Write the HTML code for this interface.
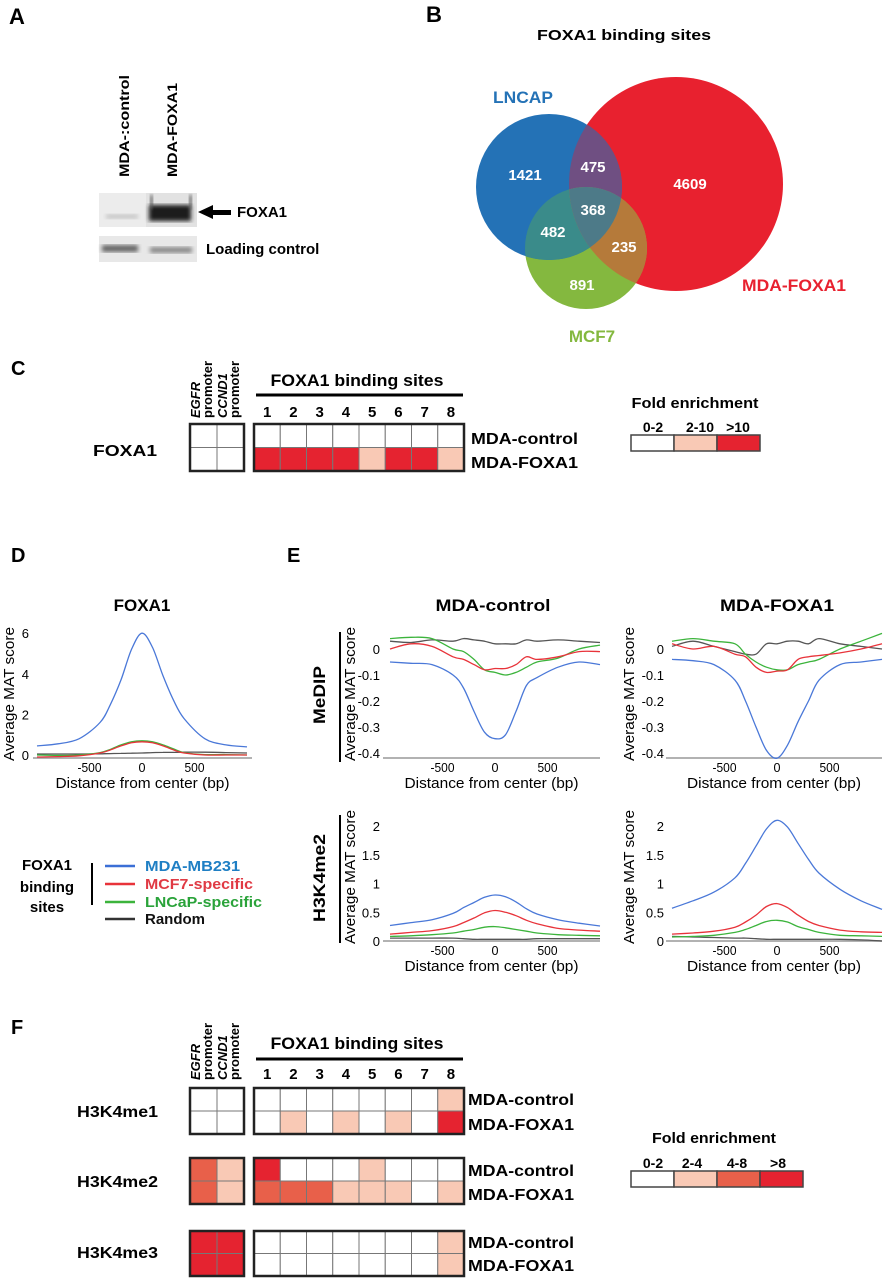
<!DOCTYPE html>
<html><head><meta charset="utf-8"><style>
html,body{margin:0;padding:0;background:#fff;}
svg{display:block;font-family:"Liberation Sans",Arial,sans-serif;}
.b{font-weight:bold;}
</style></head><body>
<svg id="fig" width="885" height="1280" viewBox="0 0 885 1280" xmlns="http://www.w3.org/2000/svg">
<defs>
<clipPath id="cb"><circle cx="549" cy="187" r="73"/></clipPath>
<clipPath id="cr"><circle cx="676" cy="184" r="107"/></clipPath>
<filter id="bl"><feGaussianBlur stdDeviation="2"/></filter>
</defs>

<!-- Panel A -->
<text x="9" y="24" font-size="22" class="b">A</text>
<text transform="translate(129,177) rotate(-90)" font-size="14" class="b" textLength="102" lengthAdjust="spacingAndGlyphs">MDA-:control</text>
<text transform="translate(177,177) rotate(-90)" font-size="14" class="b" textLength="94" lengthAdjust="spacingAndGlyphs">MDA-FOXA1</text>
<g>
<rect x="99" y="193" width="98" height="34" fill="#ececec"/>
<rect x="146" y="193" width="51" height="34" fill="#e2e2e2"/>
<rect x="106" y="214" width="32" height="5" fill="#c8c8c8" filter="url(#bl)"/>
<rect x="149" y="205" width="42" height="16" fill="#1e1e1e" filter="url(#bl)"/>
<rect x="150" y="195" width="3" height="14" fill="#555" filter="url(#bl)"/>
<rect x="189" y="195" width="3" height="14" fill="#555" filter="url(#bl)"/>
</g>
<g>
<rect x="99" y="236" width="98" height="26" fill="#e8e8e8"/>
<rect x="102" y="245" width="36" height="7" fill="#666" filter="url(#bl)"/>
<rect x="150" y="247" width="42" height="6" fill="#888" filter="url(#bl)"/>
</g>
<polygon points="198,212 213,205 213,210 231,210 231,215 213,215 213,219" fill="#000"/>
<text x="237" y="217" font-size="15" class="b">FOXA1</text>
<text x="206" y="254" font-size="15" class="b">Loading control</text>

<!-- Panel B -->
<text x="426" y="22" font-size="22" class="b">B</text>
<text x="624" y="40" font-size="15" class="b" text-anchor="middle" textLength="174" lengthAdjust="spacingAndGlyphs">FOXA1 binding sites</text>
<g>
<circle cx="676" cy="184" r="107" fill="#e8212f"/>
<circle cx="586" cy="248" r="61" fill="#84b83f"/>
<circle cx="549" cy="187" r="73" fill="#2472b6"/>
<g clip-path="url(#cb)"><circle cx="676" cy="184" r="107" fill="#6f4f82"/><circle cx="586" cy="248" r="61" fill="#3a8b8a"/></g>
<g clip-path="url(#cr)"><circle cx="586" cy="248" r="61" fill="#b57a3a"/></g>
<g clip-path="url(#cb)"><g clip-path="url(#cr)"><circle cx="586" cy="248" r="61" fill="#4d7a88"/></g></g>
<g font-size="15" class="b" fill="#fff" text-anchor="middle">
<text x="525" y="180">1421</text>
<text x="593" y="172">475</text>
<text x="690" y="189">4609</text>
<text x="593" y="215">368</text>
<text x="553" y="237">482</text>
<text x="624" y="252">235</text>
<text x="582" y="290">891</text>
</g>
<text x="493" y="103" font-size="17" class="b" fill="#2472b6" textLength="60" lengthAdjust="spacingAndGlyphs">LNCAP</text>
<text x="742" y="291" font-size="17" class="b" fill="#e8212f" textLength="104" lengthAdjust="spacingAndGlyphs">MDA-FOXA1</text>
<text x="592" y="342" font-size="17" class="b" fill="#84b83f" text-anchor="middle">MCF7</text>
</g>

<!-- Panel C -->
<text x="11" y="375" font-size="20" class="b">C</text>
<g id="cHead"></g>
<text x="93" y="456" font-size="16" class="b" textLength="64" lengthAdjust="spacingAndGlyphs">FOXA1</text>
<text x="471" y="444" font-size="16" class="b" textLength="107" lengthAdjust="spacingAndGlyphs">MDA-control</text>
<text x="471" y="468" font-size="16" class="b" textLength="107" lengthAdjust="spacingAndGlyphs">MDA-FOXA1</text>
<g id="cGrid"></g>
<g>
<text x="695" y="408" font-size="15" class="b" text-anchor="middle" textLength="127" lengthAdjust="spacingAndGlyphs">Fold enrichment</text>
<text x="653" y="432" font-size="14" class="b" text-anchor="middle">0-2</text>
<text x="700" y="432" font-size="14" class="b" text-anchor="middle">2-10</text>
<text x="738" y="432" font-size="14" class="b" text-anchor="middle">&gt;10</text>
<rect x="631" y="435" width="43" height="16" fill="#fff" stroke="#444" stroke-width="1.5"/>
<rect x="674" y="435" width="43" height="16" fill="#f9c9b5" stroke="#444" stroke-width="1.5"/>
<rect x="717" y="435" width="43" height="16" fill="#e52330" stroke="#444" stroke-width="1.5"/>
</g>

<!-- Panel D/E -->
<text x="11" y="562" font-size="20" class="b">D</text>
<text x="287" y="562" font-size="20" class="b">E</text>
<text x="142" y="611" font-size="17" class="b" text-anchor="middle">FOXA1</text>
<text x="493" y="611" font-size="17" class="b" text-anchor="middle" textLength="115" lengthAdjust="spacingAndGlyphs">MDA-control</text>
<text x="777" y="611" font-size="17" class="b" text-anchor="middle" textLength="114" lengthAdjust="spacingAndGlyphs">MDA-FOXA1</text>
<line x1="340" y1="632" x2="340" y2="762" stroke="#000" stroke-width="2"/>
<line x1="340" y1="815" x2="340" y2="943" stroke="#000" stroke-width="2"/>
<text transform="translate(325,695) rotate(-90)" font-size="17" class="b" text-anchor="middle" textLength="58" lengthAdjust="spacingAndGlyphs">MeDIP</text>
<text transform="translate(325,878) rotate(-90)" font-size="17" class="b" text-anchor="middle" textLength="88" lengthAdjust="spacingAndGlyphs">H3K4me2</text>
<g id="plots"></g>

<g>
<text x="47" y="870" font-size="15" class="b" text-anchor="middle">FOXA1</text>
<text x="47" y="892" font-size="15" class="b" text-anchor="middle">binding</text>
<text x="47" y="912" font-size="15" class="b" text-anchor="middle">sites</text>
<line x1="92" y1="863" x2="92" y2="905" stroke="#000" stroke-width="2"/>
<line x1="105" y1="866" x2="135" y2="866" stroke="#3b6fd6" stroke-width="2.5"/>
<line x1="105" y1="884" x2="135" y2="884" stroke="#e8333a" stroke-width="2.5"/>
<line x1="105" y1="902" x2="135" y2="902" stroke="#3cb43c" stroke-width="2.5"/>
<line x1="105" y1="919" x2="135" y2="919" stroke="#333" stroke-width="2.5"/>
<text x="145" y="871" font-size="15" class="b" fill="#1f7fc4" textLength="95" lengthAdjust="spacingAndGlyphs">MDA-MB231</text>
<text x="145" y="889" font-size="15" class="b" fill="#e03a44" textLength="108" lengthAdjust="spacingAndGlyphs">MCF7-specific</text>
<text x="145" y="907" font-size="15" class="b" fill="#2aa33a" textLength="117" lengthAdjust="spacingAndGlyphs">LNCaP-specific</text>
<text x="145" y="924" font-size="15" class="b" fill="#111">Random</text>
</g>

<!-- Panel F -->
<text x="11" y="1034" font-size="20" class="b">F</text>
<g id="fHead"></g>
<text x="77" y="1117" font-size="16" class="b" textLength="81" lengthAdjust="spacingAndGlyphs">H3K4me1</text>
<text x="77" y="1187" font-size="16" class="b" textLength="81" lengthAdjust="spacingAndGlyphs">H3K4me2</text>
<text x="77" y="1258" font-size="16" class="b" textLength="81" lengthAdjust="spacingAndGlyphs">H3K4me3</text>
<g id="fGrid"></g>
<g>
<text x="714" y="1143" font-size="15" class="b" text-anchor="middle" textLength="124" lengthAdjust="spacingAndGlyphs">Fold enrichment</text>
<text x="653" y="1168" font-size="14" class="b" text-anchor="middle">0-2</text>
<text x="692" y="1168" font-size="14" class="b" text-anchor="middle">2-4</text>
<text x="737" y="1168" font-size="14" class="b" text-anchor="middle">4-8</text>
<text x="778" y="1168" font-size="14" class="b" text-anchor="middle">&gt;8</text>
<rect x="631" y="1171" width="43" height="16" fill="#fff" stroke="#444" stroke-width="1.5"/>
<rect x="674" y="1171" width="43" height="16" fill="#f9c9b5" stroke="#444" stroke-width="1.5"/>
<rect x="717" y="1171" width="43" height="16" fill="#e8604a" stroke="#444" stroke-width="1.5"/>
<rect x="760" y="1171" width="43" height="16" fill="#e52330" stroke="#444" stroke-width="1.5"/>
</g>
</svg>

<script>
// ---------- Data ----------
const siteLabels = ["1","2","3","4","5","6","7","8"];
const promoterLabels = ["EGFR", "CCND1"];
// Panel C levels (0: 0-2, 1: 2-10, 2: >10)
const cControlPromoters = [0,0];
const cControlSites = [0,0,0,0,0,0,0,0];
const cFoxa1Promoters = [0,0];
const cFoxa1Sites = [2,2,2,2,1,2,2,1];
const cColors = ["#ffffff","#f9c9b5","#e52330"];
// Panel F levels (0: 0-2, 1: 2-4, 2: 4-8, 3: >8)
const me1ControlPromoters = [0,0];
const me1ControlSites = [0,0,0,0,0,0,0,1];
const me1Foxa1Promoters = [0,0];
const me1Foxa1Sites = [0,1,0,1,0,1,0,3];
const me2ControlPromoters = [2,1];
const me2ControlSites = [3,0,0,0,1,0,0,0];
const me2Foxa1Promoters = [2,1];
const me2Foxa1Sites = [2,2,2,1,1,1,0,1];
const me3ControlPromoters = [3,3];
const me3ControlSites = [0,0,0,0,0,0,0,1];
const me3Foxa1Promoters = [3,3];
const me3Foxa1Sites = [0,0,0,0,0,0,0,1];
const fColors = ["#ffffff","#f9c9b5","#e8604a","#e52330"];

// Profile x positions (bp from center)
const profileX = [-1000,-800,-600,-400,-300,-200,-100,0,100,200,300,400,600,800,1000];
// D: FOXA1 profile
const dBlue  = [0.45,0.55,0.8,1.6,2.5,3.7,5.2,6.0,5.3,3.9,2.7,1.8,0.8,0.5,0.4];
const dRed   = [-0.1,-0.08,-0.04,0.1,0.25,0.45,0.6,0.65,0.6,0.45,0.25,0.1,0.0,0.0,0.0];
const dGreen = [0.0,-0.02,0.0,0.12,0.28,0.5,0.65,0.7,0.65,0.5,0.3,0.12,0.02,0.02,0.0];
const dBlack = [0.05,0.05,0.05,0.06,0.07,0.08,0.09,0.1,0.12,0.13,0.13,0.14,0.14,0.12,0.1];
// E MeDIP, MDA-control
const mcBlue  = [-0.05,-0.055,-0.06,-0.1,-0.15,-0.24,-0.32,-0.345,-0.33,-0.24,-0.14,-0.11,-0.07,-0.05,-0.06];
const mcRed   = [0.0,0.02,0.01,-0.03,-0.04,-0.06,-0.08,-0.075,-0.075,-0.06,-0.03,-0.04,-0.03,-0.01,-0.01];
const mcGreen = [0.04,0.045,0.04,0.0,-0.01,-0.04,-0.08,-0.09,-0.1,-0.09,-0.07,-0.05,-0.035,0.0,0.015];
const mcBlack = [0.03,0.025,0.035,0.03,0.04,0.035,0.03,0.02,0.02,0.02,0.035,0.03,0.035,0.03,0.025];
// E MeDIP, MDA-FOXA1
const mfBlue  = [-0.04,-0.045,-0.06,-0.12,-0.2,-0.3,-0.39,-0.42,-0.37,-0.28,-0.2,-0.12,-0.06,-0.05,-0.04];
const mfRed   = [0.02,0.0,0.01,-0.02,-0.03,-0.07,-0.09,-0.085,-0.08,-0.04,-0.03,-0.025,-0.015,0.0,0.02];
const mfGreen = [0.03,0.04,0.03,0.02,-0.02,-0.05,-0.07,-0.08,-0.08,-0.06,-0.05,-0.04,0.0,0.03,0.06];
const mfBlack = [0.01,0.03,0.01,-0.01,-0.02,-0.02,0.02,0.02,0.03,0.03,0.02,0.04,0.02,0.01,0.0];
// E H3K4me2, MDA-control
const hcBlue  = [0.27,0.32,0.37,0.48,0.58,0.67,0.76,0.8,0.77,0.68,0.56,0.47,0.37,0.31,0.26];
const hcRed   = [0.12,0.15,0.18,0.25,0.32,0.4,0.49,0.53,0.5,0.44,0.36,0.3,0.22,0.19,0.17];
const hcGreen = [0.08,0.09,0.11,0.14,0.17,0.2,0.24,0.25,0.23,0.2,0.17,0.14,0.11,0.1,0.09];
const hcBlack = [0.05,0.05,0.05,0.05,0.04,0.03,0.03,0.03,0.03,0.03,0.03,0.04,0.04,0.04,0.04];
// E H3K4me2, MDA-FOXA1
const hfBlue  = [0.57,0.7,0.85,1.1,1.35,1.65,1.95,2.1,1.98,1.7,1.42,1.18,0.9,0.7,0.55];
const hfRed   = [0.12,0.14,0.17,0.24,0.33,0.45,0.6,0.65,0.58,0.45,0.34,0.27,0.19,0.16,0.15];
const hfGreen = [0.07,0.08,0.1,0.15,0.2,0.27,0.34,0.36,0.33,0.25,0.2,0.15,0.1,0.09,0.08];
const hfBlack = [0.08,0.07,0.06,0.05,0.05,0.04,0.03,0.03,0.03,0.03,0.03,0.03,0.03,0.02,0.0];

const dTicksY = [0,2,4,6];
const medipTicksY = [0,-0.1,-0.2,-0.3,-0.4];
const medipTickLabels = ["0","-0.1","-0.2","-0.3","-0.4"];
const h3TicksY = [0,0.5,1,1.5,2];
const h3TickLabels = ["0","0.5","1","1.5","2"];
const xTicks = [-500,0,500];
const xTickLabels = ["-500","0","500"];

// ---------- Drawing ----------
const NS = "http://www.w3.org/2000/svg";
function mk(tag, attrs, parent){ const e=document.createElementNS(NS,tag); for(const k in attrs) e.setAttribute(k,attrs[k]); parent.appendChild(e); return e; }

function smoothPath(pts){
  let d = "M"+pts[0][0].toFixed(1)+","+pts[0][1].toFixed(1);
  for(let i=0;i<pts.length-1;i++){
    const p0=pts[Math.max(0,i-1)], p1=pts[i], p2=pts[i+1], p3=pts[Math.min(pts.length-1,i+2)];
    const c1x=p1[0]+(p2[0]-p0[0])/6, c1y=p1[1]+(p2[1]-p0[1])/6;
    const c2x=p2[0]-(p3[0]-p1[0])/6, c2y=p2[1]-(p3[1]-p1[1])/6;
    d+=" C"+c1x.toFixed(1)+","+c1y.toFixed(1)+" "+c2x.toFixed(1)+","+c2y.toFixed(1)+" "+p2[0].toFixed(1)+","+p2[1].toFixed(1);
  }
  return d;
}

const plotsG = document.getElementById("plots");
function drawPlot(cfg){
  const g = mk("g",{},plotsG);
  
  
  const xs = v => cfg.cx + v*cfg.kx;
  const ys = v => cfg.y0 - v*cfg.ky;
  // baseline
  const ax = mk("line",{x1:cfg.left,x2:cfg.right,y1:cfg.base,y2:cfg.base,stroke:"#999","stroke-width":1.5},g);
  
  
  cfg.yt.forEach((v,i)=>{
    const t = mk("text",{x:cfg.tickX,y:ys(v)+5,"font-size":13,"text-anchor":"end"},g);
    t.textContent = cfg.ytl[i];
    
    
  });
  xTicks.forEach((v,i)=>{
    const t = mk("text",{x:xs(v),y:cfg.base+14,"font-size":13,"text-anchor":"middle",textLength:v===0?7:(v<0?24:20),lengthAdjust:"spacingAndGlyphs"},g);
    t.textContent = xTickLabels[i];
    
    
  });
  const xl = mk("text",{x:(cfg.left+cfg.right)/2,y:cfg.base+30,"font-size":15,"text-anchor":"middle",textLength:174,lengthAdjust:"spacingAndGlyphs"},g);
  xl.textContent = "Distance from center (bp)";
  
  
  const yl = mk("text",{transform:"translate("+cfg.ylx+","+((cfg.top+cfg.base)/2)+") rotate(-90)","font-size":15,"text-anchor":"middle",textLength:134,lengthAdjust:"spacingAndGlyphs"},g);
  yl.textContent = "Average MAT score";
  
  
  const series = [[cfg.black,"#555","random"],[cfg.green,"#3cb43c","lncap-specific"],[cfg.red,"#e8333a","mcf7-specific"],[cfg.blue,"#4a78d8","mda-mb231"]];
  series.forEach(s=>{
    const pts = profileX.map((x,i)=>[xs(x),ys(s[0][i])]);
    const p = mk("path",{d:smoothPath(pts),fill:"none",stroke:s[1],"stroke-width":1.3},g);
    
    
  });
}
drawPlot({name:"plot-d-foxa1",cx:142,kx:0.105,left:33,right:252,y0:755,ky:20.3,base:758,top:630,tickX:29,ylx:14,yt:dTicksY,ytl:["0","2","4","6"],blue:dBlue,red:dRed,green:dGreen,black:dBlack});
drawPlot({name:"plot-e-medip-control",cx:495,kx:0.105,left:383,right:600,y0:649,ky:260,base:758,top:630,tickX:380,ylx:355,yt:medipTicksY,ytl:medipTickLabels,blue:mcBlue,red:mcRed,green:mcGreen,black:mcBlack});
drawPlot({name:"plot-e-medip-foxa1",cx:777,kx:0.105,left:666,right:882,y0:649,ky:260,base:758,top:630,tickX:664,ylx:634,yt:medipTicksY,ytl:medipTickLabels,blue:mfBlue,red:mfRed,green:mfGreen,black:mfBlack});
drawPlot({name:"plot-e-h3k4me2-control",cx:495,kx:0.105,left:383,right:600,y0:941,ky:57.5,base:941,top:813,tickX:380,ylx:355,yt:h3TicksY,ytl:h3TickLabels,blue:hcBlue,red:hcRed,green:hcGreen,black:hcBlack});
drawPlot({name:"plot-e-h3k4me2-foxa1",cx:777,kx:0.105,left:666,right:882,y0:941,ky:57.5,base:941,top:813,tickX:664,ylx:634,yt:h3TicksY,ytl:h3TickLabels,blue:hfBlue,red:hfRed,green:hfGreen,black:hfBlack});

// Heatmap headers
const PX0=190, PW=27, SX0=254, SW=26.25;
function drawHeader(gid, titleY, lineY, numY, headBottom){
  const g = document.getElementById(gid);
  
  
  promoterLabels.forEach((lab,i)=>{
    const x = PX0 + i*PW + 10;
    const t1 = mk("text",{transform:"translate("+x+","+headBottom+") rotate(-90)","font-size":13,"font-weight":"bold","font-style":"italic"},g);
    t1.textContent = lab;
    
    
    const t2 = mk("text",{transform:"translate("+(x+12)+","+headBottom+") rotate(-90)","font-size":13,"font-weight":"bold"},g);
    t2.textContent = "promoter";
    
    
  });
  const t = mk("text",{x:357,y:titleY+6,"font-size":17,"font-weight":"bold","text-anchor":"middle",textLength:173,lengthAdjust:"spacingAndGlyphs"},g);
  t.textContent = "FOXA1 binding sites";
  
  
  const l = mk("rect",{x:256,y:lineY-1.5,width:207,height:3,fill:"#000"},g);
  
  
  siteLabels.forEach((s,i)=>{
    const n = mk("text",{x:SX0+SW*(i+0.5),y:numY+6,"font-size":15,"font-weight":"bold","text-anchor":"middle"},g);
    n.textContent = s;
    
    
  });
}
drawHeader("cHead",380,395,411,418);
drawHeader("fHead",1043,1059,1073,1080);

function drawBlock(g, y, h, rowsP, rowsS, colors, name){
  const bg = mk("g",{},g);
  
  
  rowsP.forEach((row,r)=>{
    row.forEach((v,c)=>{
      const cell = mk("rect",{x:PX0+c*PW,y:y+r*h,width:PW,height:h,fill:colors[v],stroke:"#777","stroke-width":1},bg);
      
      
    });
  });
  rowsS.forEach((row,r)=>{
    row.forEach((v,c)=>{
      const cell = mk("rect",{x:SX0+c*SW,y:y+r*h,width:SW,height:h,fill:colors[v],stroke:"#777","stroke-width":1},bg);
      
      
    });
  });
  mk("rect",{x:PX0,y:y,width:PW*rowsP[0].length,height:h*rowsP.length,fill:"none",stroke:"#222","stroke-width":2.5},bg);
  mk("rect",{x:SX0,y:y,width:SW*rowsS[0].length,height:h*rowsS.length,fill:"none",stroke:"#222","stroke-width":2.5},bg);
}
drawBlock(document.getElementById("cGrid"),424,23.5,[cControlPromoters,cFoxa1Promoters],[cControlSites,cFoxa1Sites],cColors,"heatmap-c-foxa1");
const fg = document.getElementById("fGrid");
drawBlock(fg,1088,23,[me1ControlPromoters,me1Foxa1Promoters],[me1ControlSites,me1Foxa1Sites],fColors,"heatmap-f-h3k4me1");
drawBlock(fg,1158,23,[me2ControlPromoters,me2Foxa1Promoters],[me2ControlSites,me2Foxa1Sites],fColors,"heatmap-f-h3k4me2");
drawBlock(fg,1231,22.5,[me3ControlPromoters,me3Foxa1Promoters],[me3ControlSites,me3Foxa1Sites],fColors,"heatmap-f-h3k4me3");

// F row labels (MDA-control / MDA-FOXA1)
[[1099,"MDA-control"],[1124,"MDA-FOXA1"],[1170,"MDA-control"],[1194,"MDA-FOXA1"],[1242,"MDA-control"],[1265,"MDA-FOXA1"]].forEach(r=>{
  const t = mk("text",{x:468,y:r[0]+6,"font-size":16,"font-weight":"bold",textLength:106,lengthAdjust:"spacingAndGlyphs"},fg);
  t.textContent = r[1];
  
  
});
</script>
</body></html>
